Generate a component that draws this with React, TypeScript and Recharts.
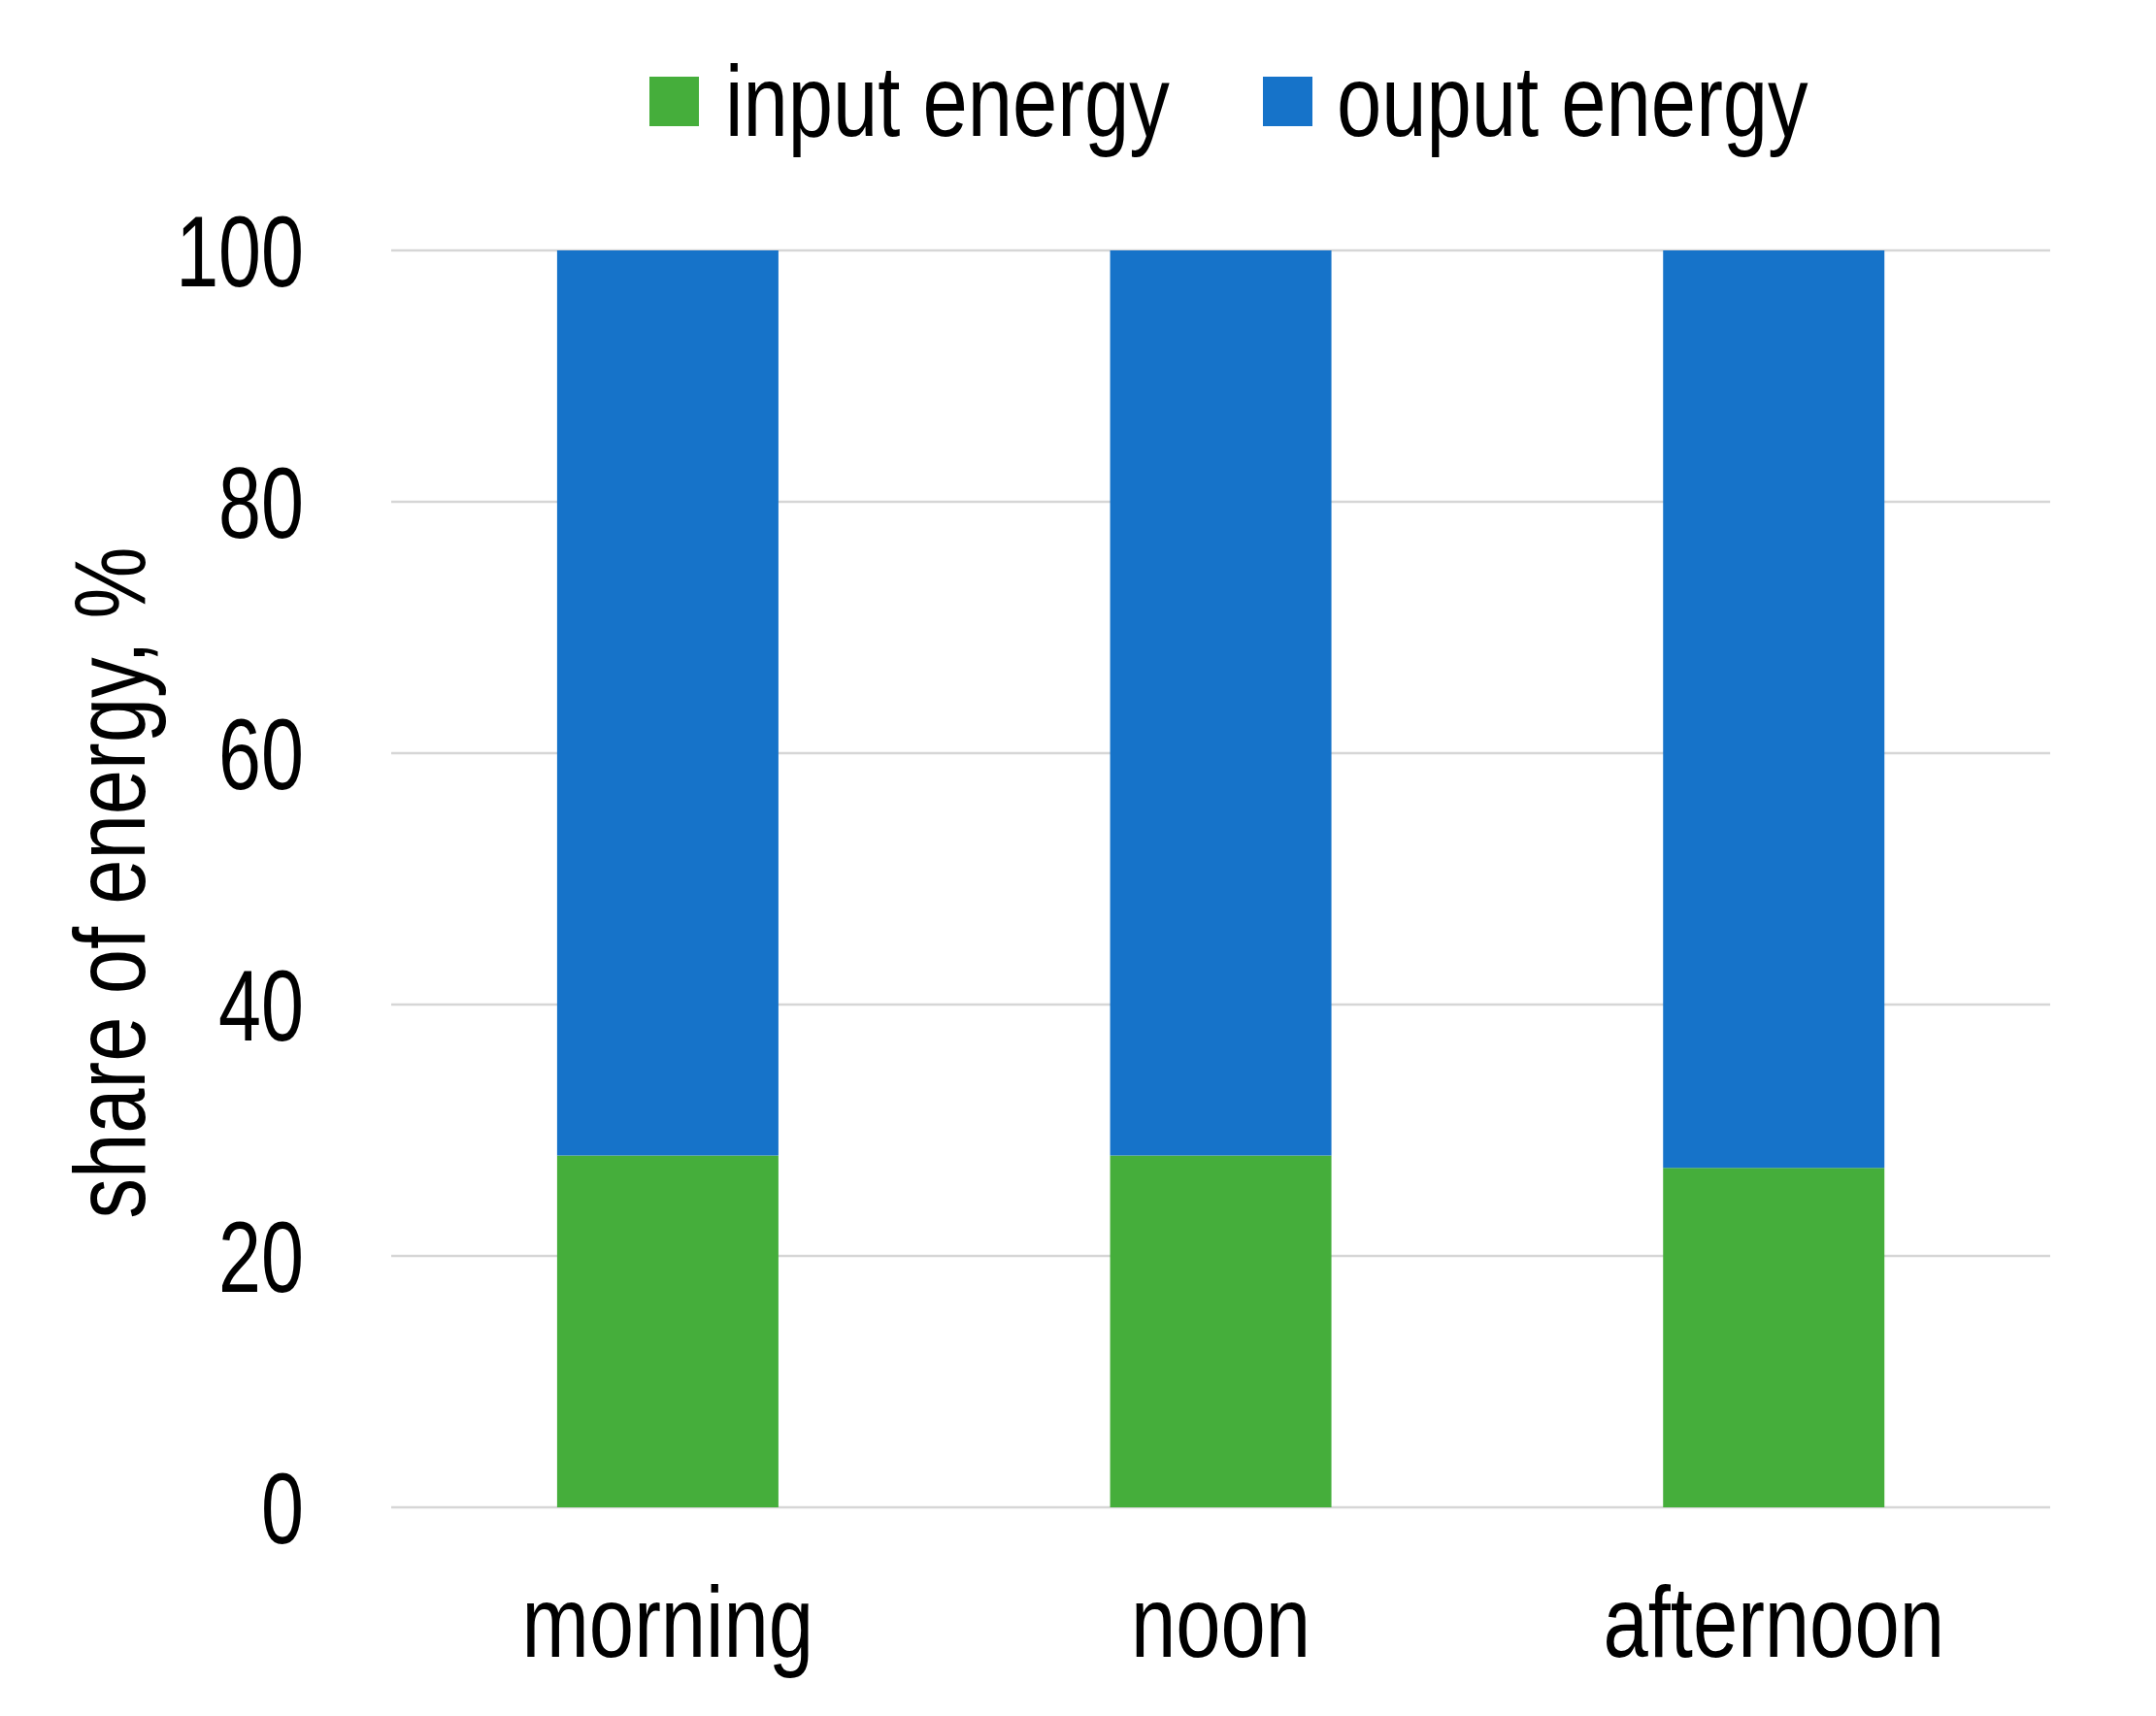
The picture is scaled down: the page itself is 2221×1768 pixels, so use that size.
import { BarChart, Bar, XAxis, YAxis, CartesianGrid, Legend } from "recharts";

const periods = ["morning", "noon", "afternoon"];
const inputEnergy = [28, 28, 27];
const outputEnergy = [72, 72, 73];
const yTicks = [0, 20, 40, 60, 80, 100];

const GREEN = "#45AE3B";
const BLUE = "#1673C9";
const FONT = "'Liberation Sans', Arial, sans-serif";
const FS = 104;
// no narrow face installed, so squeeze Liberation Sans horizontally
const NARROW = 0.8;
const NARROW_DIGITS = 0.76;
const X_AXIS_H = 30;

const data = periods.map((p, i) => ({
  period: p,
  input: inputEnergy[i],
  output: outputEnergy[i],
}));

const legendItems = [
  { label: "input energy", color: GREEN, textWidth: 448, gap: 27 },
  { label: "ouput energy", color: BLUE, textWidth: 478, gap: 25 },
];

function LegendContent() {
  return (
    <div style={{ display: "flex", alignItems: "center", gap: 106, paddingLeft: 669, height: FS, fontFamily: FONT, fontSize: FS, lineHeight: `${FS}px`, color: "#000" }}>
      {legendItems.map((it) => (
        <div key={it.label} style={{ display: "flex", alignItems: "center", gap: it.gap }}>
          <div style={{ width: 51, height: 51, background: it.color }} />
          <div style={{ width: it.textWidth, height: FS }}>
            <span style={{ display: "inline-block", whiteSpace: "nowrap", transform: `scaleX(${NARROW})`, transformOrigin: "left center" }}>{it.label}</span>
          </div>
        </div>
      ))}
    </div>
  );
}

function XTick(props: any) {
  const { x, y, payload } = props;
  return (
    <text transform={`translate(${x},${y}) scale(${NARROW},1)`} textAnchor="middle" dy="0.71em" fontFamily={FONT} fontSize={FS} fill="#000">
      {payload.value}
    </text>
  );
}

function YTick(props: any) {
  const { x, y, payload } = props;
  return (
    <text transform={`translate(${x},${y}) scale(${NARROW_DIGITS},1)`} textAnchor="end" dy="0.355em" fontFamily={FONT} fontSize={FS} fill="#000">
      {payload.value}
    </text>
  );
}

function YLabel(props: any) {
  const vb = props.viewBox || { x: 0, y: 0, width: 0, height: 0 };
  const cx = vb.x + 149;
  const cy = vb.y + vb.height / 2 + 4;
  return (
    <text transform={`translate(${cx},${cy}) rotate(-90) scale(${NARROW},1)`} textAnchor="middle" fontFamily={FONT} fontSize={FS} fill="#000">
      share of energy, %
    </text>
  );
}

export default function App() {
  return (
    <div style={{ position: "absolute", left: 0, top: 0, width: 2221, height: 1768, background: "#fff" }}>
      <BarChart
        width={2221}
        height={1768}
        data={data}
        margin={{ top: 258 - FS, right: 109, bottom: 215 - X_AXIS_H, left: 0 }}
        barCategoryGap="30%"
      >
        <CartesianGrid vertical={false} stroke="#d6d6d6" strokeWidth={2.5} />
        <XAxis
          dataKey="period"
          height={X_AXIS_H}
          axisLine={false}
          tickLine={false}
          tickSize={0}
          tickMargin={80}
          tick={<XTick />}
        />
        <YAxis
          width={403}
          domain={[0, 100]}
          ticks={yTicks}
          axisLine={false}
          tickLine={false}
          tickSize={0}
          tickMargin={90}
          tick={<YTick />}
          label={{ content: (p: any) => <YLabel {...p} /> }}
        />
        <Legend
          verticalAlign="top"
          content={() => <LegendContent />}
          wrapperStyle={{ top: 52, left: 0, width: 2221, height: FS }}
        />
        <Bar dataKey="input" name="input energy" stackId="e" fill={GREEN} isAnimationActive={false} />
        <Bar dataKey="output" name="ouput energy" stackId="e" fill={BLUE} isAnimationActive={false} />
      </BarChart>
    </div>
  );
}
